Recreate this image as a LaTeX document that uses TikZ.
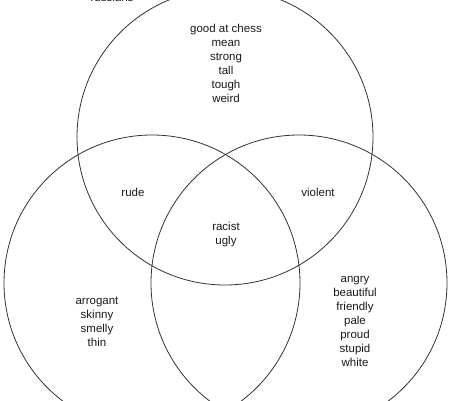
\documentclass[tikz,border=0pt]{standalone}
\usepackage{fontspec}
\setmainfont{Liberation Sans}
\begin{document}
\begin{tikzpicture}[x=1pt,y=-1pt,
  ring/.style={draw=black!80, line width=0.8pt},
  lbl/.style={align=center, font=\fontsize{11.5}{14}\selectfont, text=black!90, inner sep=0pt}]
\useasboundingbox (0,0) rectangle (450,400);
\clip (0,0) rectangle (450,400);
\coordinate (ctop) at (225,137);
\coordinate (cleft) at (152,283);
\coordinate (cright) at (299,283);
\draw[ring] (ctop) circle[radius=148];
\draw[ring] (cleft) circle[radius=148];
\draw[ring] (cright) circle[radius=148];
\node[lbl, anchor=base] (rus) at (112,1.5) {russians};
\node[lbl] (top) at (226,63) {good at chess\\mean\\strong\\tall\\tough\\weird};
\node[lbl] (rude) at (133,192) {rude};
\node[lbl] (violent) at (318,192) {violent};
\node[lbl] (mid) at (226,235) {racist\\ugly};
\node[lbl] (left) at (97,322) {arrogant\\skinny\\smelly\\thin};
\node[lbl] (right) at (355,321) {angry\\beautiful\\friendly\\pale\\proud\\stupid\\white};
\end{tikzpicture}
\end{document}
